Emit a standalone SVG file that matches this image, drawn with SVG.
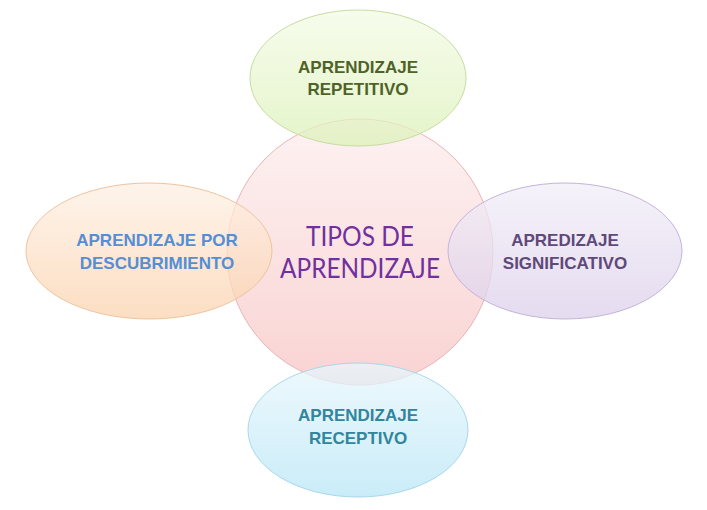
<svg xmlns="http://www.w3.org/2000/svg" width="707" height="510" viewBox="0 0 707 510">
<style>
.lbl{font-family:"Liberation Sans",Arial,sans-serif;font-weight:bold;font-size:17px;text-anchor:middle}
.sh{stroke-width:1;fill-opacity:0.75}
.ct{font-family:Lato,sans-serif;font-size:27px;fill:#7030a0;text-anchor:middle}
</style>
<defs>
<linearGradient id="gc" x1="0" y1="0" x2="0" y2="1"><stop offset="0" stop-color="#fdeeee"/><stop offset="1" stop-color="#f8c4c4"/></linearGradient>
<linearGradient id="gt" x1="0" y1="0" x2="0" y2="1"><stop offset="0" stop-color="#f4fbe6"/><stop offset="1" stop-color="#dcf1b8"/></linearGradient>
<linearGradient id="gl" x1="0" y1="0" x2="0" y2="1"><stop offset="0" stop-color="#fef0e4"/><stop offset="1" stop-color="#fbd3ae"/></linearGradient>
<linearGradient id="gr" x1="0" y1="0" x2="0" y2="1"><stop offset="0" stop-color="#f2eef8"/><stop offset="1" stop-color="#dcd0ea"/></linearGradient>
<linearGradient id="gb" x1="0" y1="0" x2="0" y2="1"><stop offset="0" stop-color="#e8f7fc"/><stop offset="1" stop-color="#b8e6f6"/></linearGradient>
</defs>
<rect width="707" height="510" fill="#fff"/>
<g id="center"><circle class="sh" cx="360" cy="252" r="133" fill="url(#gc)" stroke="#eab4b4"/></g>
<g id="top"><ellipse class="sh" cx="358" cy="78" rx="108" ry="68" fill="url(#gt)" stroke="#c8dca0"/>
<text class="lbl" fill="#4f6228" x="358" y="73">APRENDIZAJE</text><text class="lbl" fill="#4f6228" x="358" y="95">REPETITIVO</text></g>
<g id="left"><ellipse class="sh" cx="149" cy="251" rx="123" ry="68" fill="url(#gl)" stroke="#eec4a0"/>
<text class="lbl" fill="#558ed5" x="157" y="246">APRENDIZAJE POR</text><text class="lbl" fill="#558ed5" x="157" y="269">DESCUBRIMIENTO</text></g>
<g id="right"><ellipse class="sh" cx="565" cy="251" rx="117" ry="68" fill="url(#gr)" stroke="#c4b4d8"/>
<text class="lbl" fill="#5f497a" x="565" y="246">APREDIZAJE</text><text class="lbl" fill="#5f497a" x="565" y="269">SIGNIFICATIVO</text></g>
<g id="bottom"><ellipse class="sh" cx="358" cy="430" rx="110" ry="67" fill="url(#gb)" stroke="#a8d8ea"/>
<text class="lbl" fill="#31859c" x="358" y="421">APRENDIZAJE</text><text class="lbl" fill="#31859c" x="358" y="444">RECEPTIVO</text></g>
<g id="center-label"><text class="ct" x="360" y="246" textLength="108" lengthAdjust="spacingAndGlyphs">TIPOS DE</text>
<text class="ct" x="360" y="278" textLength="160" lengthAdjust="spacingAndGlyphs">APRENDIZAJE</text></g>
<g id="connectors"/>
</svg>
